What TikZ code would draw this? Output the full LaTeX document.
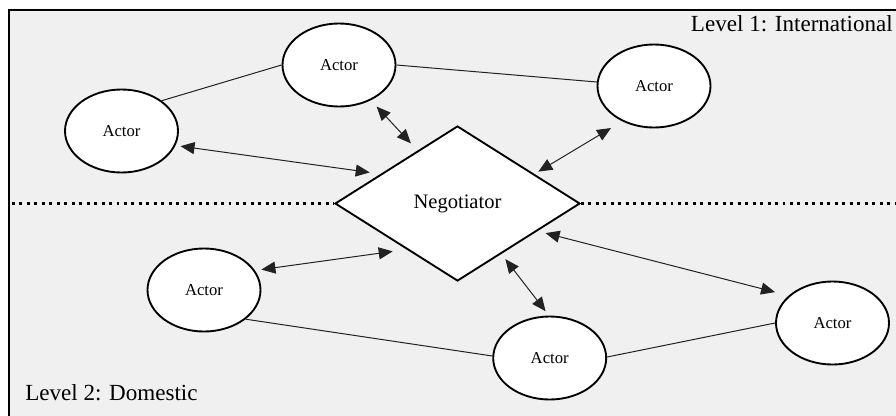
\documentclass[tikz,border=0pt]{standalone}
\usepackage{fontspec}
\setmainfont{Liberation Serif}
\usetikzlibrary{shapes.geometric,arrows.meta}
\definecolor{bggray}{HTML}{F0F0F0}
\definecolor{linegray}{HTML}{222222}
\tikzset{
  actor/.style={ellipse,draw=black,fill=white,line width=1.4pt,
    minimum width=84.75pt,minimum height=62.25pt,inner sep=0pt,
    font=\fontsize{12.5}{14}\selectfont},
  negot/.style={diamond,draw=black,fill=white,line width=1.4pt,
    minimum width=183.75pt,minimum height=116.25pt,inner sep=0pt,aspect=1.58,
    font=\fontsize{15.4}{18}\selectfont},
  link/.style={draw=linegray,line width=0.75pt},
  twoway/.style={draw=linegray,line width=0.75pt,{Triangle[length=10.5pt,width=9pt]}-{Triangle[length=10.5pt,width=9pt]}},
  levelsep/.style={draw=black,line width=2.2pt,dash pattern=on 2.2pt off 3.4pt},
  levellabel/.style={inner sep=0pt,font=\fontsize{17.3}{20}\selectfont}
}
\begin{document}
\begin{tikzpicture}[x=0.75pt,y=-0.75pt]
\useasboundingbox (0,0) rectangle (896,415);
\clip (0,0) rectangle (896,415);
% frame
\path[fill=bggray,draw=black,line width=1.4pt] (9,10) rectangle (910,430);
% nodes
\node[negot] (dia) at (457.5,203.5) {Negotiator};
\node[actor] (tl) at (121.5,131) {Actor};
\node[actor] (tm) at (339,65) {Actor};
\node[actor] (tr) at (654,86) {Actor};
\node[actor] (bl) at (204,290) {Actor};
\node[actor] (bm) at (549.7,358) {Actor};
\node[actor] (br) at (832.5,323) {Actor};
% level separator
\coordinate (sepL) at (12,203.5);
\coordinate (sepR) at (896,203.5);
\draw[levelsep] (sepL) -- (dia.west);
\draw[levelsep] (dia.east) -- (sepR);
% labels
\node[levellabel,anchor=base east] (lab1) at (893,31.7) {Level 1: International};
\node[levellabel,anchor=base west] (lab2) at (25,400) {Level 2: Domestic};
% plain links between actors
\draw[link] (tl.37) -- (tm.180);
\draw[link] (tm.0) -- (tr.176.5);
\draw[link] (bl.-35.3) -- (bm.178);
\draw[link] (bm.1.3) -- (br.180);
% two-way arrows
\draw[twoway,shorten <=3.8pt,shorten >=8.2pt] (tl.-15) -- (dia.159.3);
\draw[twoway,shorten <=6.4pt,shorten >=7.3pt] (tm.-48) -- (dia.127.8);
\draw[twoway,shorten <=9.75pt,shorten >=3.4pt] (tr.-132.6) -- (dia.21.2);
\draw[twoway,shorten <=4.9pt,shorten >=10.4pt] (bl.21) -- (dia.-138.5);
\draw[twoway,shorten <=4.1pt,shorten >=4.8pt] (bm.91.8) -- (dia.-49.6);
\draw[twoway,shorten <=10.5pt,shorten >=6.2pt] (br.148.8) -- (dia.-19.45);
\end{tikzpicture}
\end{document}
